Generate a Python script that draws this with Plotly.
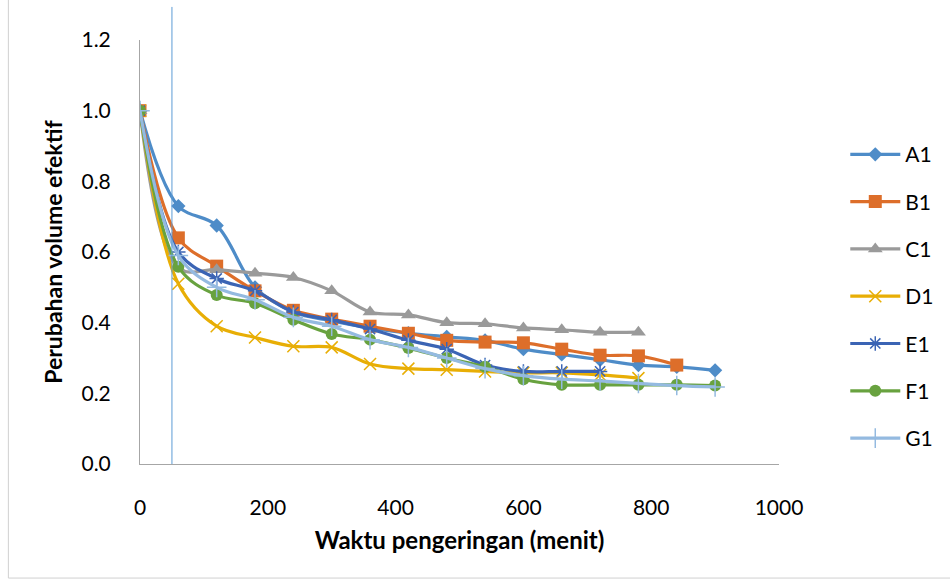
import plotly.graph_objects as go

# ---- data ----
x_full = [0, 60, 120, 180, 240, 300, 360, 420, 480, 540, 600, 660, 720, 780, 840, 900]
A1 = [1.0, 0.73, 0.675, 0.50, 0.43, 0.405, 0.385, 0.37, 0.36, 0.35, 0.325, 0.31, 0.295, 0.28, 0.275, 0.265]
B1 = [1.0, 0.64, 0.56, 0.49, 0.435, 0.41, 0.39, 0.37, 0.35, 0.345, 0.343, 0.325, 0.308, 0.306, 0.28]
C1 = [1.0, 0.555, 0.55, 0.54, 0.528, 0.49, 0.43, 0.422, 0.40, 0.397, 0.385, 0.38, 0.373, 0.373]
D1 = [1.0, 0.51, 0.39, 0.358, 0.333, 0.33, 0.283, 0.27, 0.267, 0.262, 0.258, 0.258, 0.252, 0.243]
E1 = [1.0, 0.60, 0.525, 0.49, 0.43, 0.408, 0.382, 0.35, 0.325, 0.28, 0.262, 0.262, 0.262]
F1 = [1.0, 0.558, 0.478, 0.455, 0.408, 0.368, 0.352, 0.328, 0.30, 0.275, 0.24, 0.224, 0.224, 0.224, 0.224, 0.222]
G1 = [1.0, 0.59, 0.50, 0.465, 0.415, 0.39, 0.352, 0.33, 0.30, 0.27, 0.25, 0.24, 0.235, 0.228, 0.222, 0.218]
names = ["A1", "B1", "C1", "D1", "E1", "F1", "G1"]
series = [A1, B1, C1, D1, E1, F1, G1]
marker_line_x = 50

x_ticks = [0, 200, 400, 600, 800, 1000]
y_ticks = [0.0, 0.2, 0.4, 0.6, 0.8, 1.0, 1.2]

colors = ["#4E8CC8", "#DD6E2A", "#9A9A9A", "#E8AE05", "#3B64B4", "#68A23F", "#94BAE0"]
symbols = ["diamond", "square", "triangle-up", "x-thin-open", "asterisk-open", "circle", "cross-thin-open"]
sizes = [11, 13, 13, 12, 12, 12, 14]

FONT = "Lato"

fig = go.Figure()
for i, (nm, ys) in enumerate(zip(names, series)):
    open_sym = symbols[i].endswith("open")
    fig.add_trace(go.Scatter(
        x=x_full[:len(ys)], y=ys, name=nm, mode="lines+markers",
        line=dict(color=colors[i], width=3.2, shape="spline", smoothing=1),
        marker=dict(symbol=symbols[i], size=sizes[i], color=colors[i],
                    line=dict(color=colors[i], width=1.5 if open_sym else 0)),
        legendgroup=nm,
    ))

fig.add_shape(type="line", xref="x", yref="paper", x0=marker_line_x, x1=marker_line_x,
              y0=0, y1=1.078, line=dict(color="#5B9BD5", width=1))
# chart area border (left & bottom)
fig.add_shape(type="line", xref="paper", yref="paper", x0=-0.206, x1=-0.206, y0=-0.269, y1=1.1,
              line=dict(color="#D0D0D0", width=1))
fig.add_shape(type="line", xref="paper", yref="paper", x0=-0.206, x1=1.27, y0=-0.269, y1=-0.269,
              line=dict(color="#D0D0D0", width=1))

fig.update_layout(
    width=950, height=581,
    margin=dict(l=140, r=170, t=40, b=117),
    paper_bgcolor="white", plot_bgcolor="white",
    font=dict(family=FONT, size=21, color="#000000"),
    legend=dict(x=1.102, y=0.778, xanchor="left", yanchor="top",
                font=dict(size=21), tracegroupgap=17, itemwidth=50,
                bgcolor="rgba(0,0,0,0)"),
    showlegend=True,
)
fig.update_xaxes(range=[0, 1000], tickvals=x_ticks, ticktext=[str(v) for v in x_ticks],
                 showgrid=False, zeroline=False, showline=True, linecolor="#A6A6A6", linewidth=1,
                 ticks="", ticklabelstandoff=25,
                 title=dict(text="<b>Waktu pengeringan (menit)</b>", font=dict(size=24), standoff=13))
fig.update_yaxes(range=[0, 1.2], tickvals=y_ticks, ticktext=[f"{v:.1f}" for v in y_ticks],
                 showgrid=False, zeroline=False, showline=True, linecolor="#A6A6A6", linewidth=1,
                 ticks="", ticklabelstandoff=24,
                 title=dict(text="<b>Perubahan volume efektif</b>", font=dict(size=23), standoff=12))

fig.write_html("out.html")
